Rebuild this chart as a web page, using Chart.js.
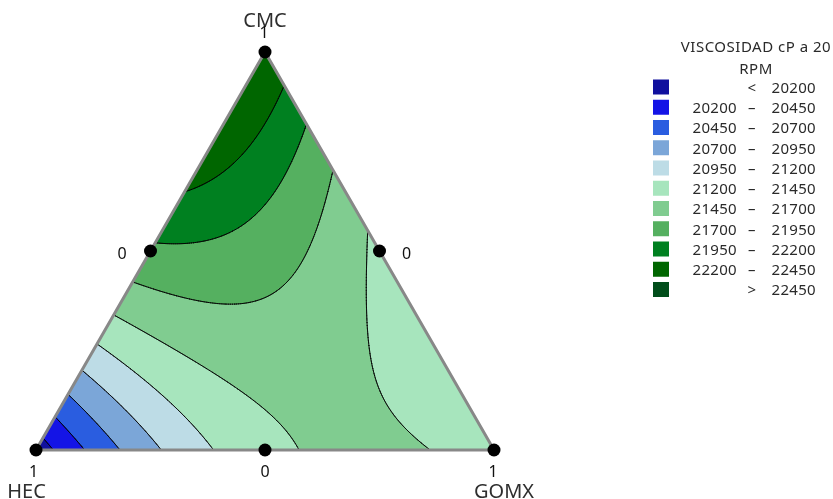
<!DOCTYPE html>
<html>
<head>
<meta charset="utf-8">
<script src="https://cdn.jsdelivr.net/npm/chart.js@4.4.1/dist/chart.umd.min.js"></script>
<style>
  html, body { margin: 0; padding: 0; background: #ffffff; }
  #wrap { width: 833px; height: 499px; position: relative; }
</style>
</head>
<body>
<div id="wrap"><canvas id="chart"></canvas></div>
<script>
// Mixture design: component proportions for every run
const componentNames = ['CMC', 'HEC', 'GOMX'];
const runCMC  = [1, 0, 0, 0.5, 0.5, 0];
const runHEC  = [0, 1, 0, 0.5, 0, 0.5];
const runGOMX = [0, 0, 1, 0, 0.5, 0.5];
// Viscosity (cP at 20 RPM) measured at each run
const viscosity = [22445, 20050, 21282, 21902, 21385, 21374];
// Contour break values
const contourLevels = [20200, 20450, 20700, 20950, 21200, 21450, 21700, 21950, 22200, 22450];
// Tick labels at the vertices and at the edge midpoints
const vertexTickLabels = ['1', '1', '1'];
const midTickLabels = ['0', '0', '0'];
const legendTitle = ['VISCOSIDAD cP a 20', 'RPM'];

// Band colours, lowest to highest
const bandColors = ['#10109e', '#1414e6', '#2a5de0', '#7ba6d8', '#bddce6', '#a7e5bd',
                    '#80cc90', '#55b060', '#008020', '#006600', '#004d1a'];

// ---- Scheffé quadratic model fitted to the runs (least squares) ----
function terms(a, b, c) { return [a, b, c, a * b, a * c, b * c]; }
function fitModel() {
  const n = 6;
  const XtX = Array.from({ length: n }, () => new Array(n).fill(0));
  const Xty = new Array(n).fill(0);
  for (let r = 0; r < viscosity.length; r++) {
    const t = terms(runCMC[r], runHEC[r], runGOMX[r]);
    for (let i = 0; i < n; i++) {
      Xty[i] += t[i] * viscosity[r];
      for (let j = 0; j < n; j++) XtX[i][j] += t[i] * t[j];
    }
  }
  // Gaussian elimination with partial pivoting
  const M = XtX.map((row, i) => row.concat([Xty[i]]));
  for (let k = 0; k < n; k++) {
    let p = k;
    for (let i = k + 1; i < n; i++) if (Math.abs(M[i][k]) > Math.abs(M[p][k])) p = i;
    [M[k], M[p]] = [M[p], M[k]];
    for (let i = k + 1; i < n; i++) {
      const f = M[i][k] / M[k][k];
      for (let j = k; j <= n; j++) M[i][j] -= f * M[k][j];
    }
  }
  const beta = new Array(n).fill(0);
  for (let i = n - 1; i >= 0; i--) {
    let s = M[i][n];
    for (let j = i + 1; j < n; j++) s -= M[i][j] * beta[j];
    beta[i] = s / M[i][i];
  }
  return beta;
}
const beta = fitModel();
function response(a, b, c) {
  const t = terms(a, b, c);
  let s = 0;
  for (let i = 0; i < t.length; i++) s += beta[i] * t[i];
  return s;
}
function bandIndex(v) {
  let k = 0;
  while (k < contourLevels.length && v >= contourLevels[k]) k++;
  return k;
}

// Ternary -> cartesian: HEC at (0,0), GOMX at (1,0), CMC at (0.5,1)
function toXY(a, b, c) { return { x: c + a / 2, y: a }; }

const designPoints = runCMC.map((a, i) => toXY(a, runHEC[i], runGOMX[i]));
const outline = [toXY(1, 0, 0), toXY(0, 1, 0), toXY(0, 0, 1), toXY(1, 0, 0)];

function hexToRgb(h) {
  return [parseInt(h.slice(1, 3), 16), parseInt(h.slice(3, 5), 16), parseInt(h.slice(5, 7), 16)];
}
const bandRgb = bandColors.map(hexToRgb);

// Filled bands and contour lines, drawn underneath the outline and run markers
const contourPlugin = {
  id: 'contourPlugin',
  beforeDatasetsDraw(chart) {
    const ctx = chart.ctx;
    const xs = chart.scales.x, ys = chart.scales.y;
    const corners = outline.slice(0, 3).map(p => [xs.getPixelForValue(p.x), ys.getPixelForValue(p.y)]);
    const x0 = Math.floor(Math.min(...corners.map(p => p[0]))) - 1;
    const x1 = Math.ceil(Math.max(...corners.map(p => p[0]))) + 1;
    const y0 = Math.floor(Math.min(...corners.map(p => p[1]))) - 1;
    const y1 = Math.ceil(Math.max(...corners.map(p => p[1]))) + 1;
    const w = x1 - x0, h = y1 - y0;

    // linear pixel -> value mapping taken from the scales
    const vx0 = xs.getValueForPixel(0), dvx = xs.getValueForPixel(1) - vx0;
    const vy0 = ys.getValueForPixel(0), dvy = ys.getValueForPixel(1) - vy0;

    const img = ctx.getImageData(x0, y0, w, h);
    const d = img.data;
    const S = 3;
    for (let j = 0; j < h; j++) {
      for (let i = 0; i < w; i++) {
        let r = 0, g = 0, bl = 0, n = 0;
        for (let sy = 0; sy < S; sy++) {
          const Y = vy0 + (y0 + j + (sy + 0.5) / S) * dvy;
          for (let sx = 0; sx < S; sx++) {
            const X = vx0 + (x0 + i + (sx + 0.5) / S) * dvx;
            const a = Y, c = X - Y / 2, b = 1 - a - c;
            if (a < 0 || b < 0 || c < 0) continue;
            const col = bandRgb[bandIndex(response(a, b, c))];
            r += col[0]; g += col[1]; bl += col[2]; n++;
          }
        }
        if (n > 0) {
          const o = (j * w + i) * 4;
          d[o] = r / n; d[o + 1] = g / n; d[o + 2] = bl / n;
          d[o + 3] = Math.round(255 * n / (S * S));
        }
      }
    }
    ctx.putImageData(img, x0, y0);

    // contour lines by marching triangles on a fine simplex grid
    const N = 240;
    const val = [];
    for (let i = 0; i <= N; i++) {
      val.push([]);
      for (let j = 0; j <= N - i; j++) {
        const a = i / N, c = j / N;
        val[i].push(response(a, 1 - a - c, c));
      }
    }
    const px = (a, c) => {
      const p = toXY(a, 1 - a - c, c);
      return [xs.getPixelForValue(p.x), ys.getPixelForValue(p.y)];
    };
    ctx.save();
    ctx.strokeStyle = 'rgba(0,0,0,0.9)';
    ctx.lineWidth = 0.9;
    ctx.lineCap = 'round';
    ctx.beginPath();
    const tri = (p, L) => {
      const pts = [];
      for (let e = 0; e < 3; e++) {
        const A = p[e], B = p[(e + 1) % 3];
        const da = A[2] - L, db = B[2] - L;
        if ((da < 0) !== (db < 0)) {
          const t = da / (da - db);
          pts.push(px(A[0] + t * (B[0] - A[0]), A[1] + t * (B[1] - A[1])));
        }
      }
      if (pts.length === 2) {
        ctx.moveTo(pts[0][0], pts[0][1]);
        ctx.lineTo(pts[1][0], pts[1][1]);
      }
    };
    for (const L of contourLevels) {
      for (let i = 0; i < N; i++) {
        for (let j = 0; j < N - i; j++) {
          const p0 = [i / N, j / N, val[i][j]];
          const p1 = [(i + 1) / N, j / N, val[i + 1][j]];
          const p2 = [i / N, (j + 1) / N, val[i][j + 1]];
          tri([p0, p1, p2], L);
          if (j < N - i - 1) {
            const p3 = [(i + 1) / N, (j + 1) / N, val[i + 1][j + 1]];
            tri([p1, p3, p2], L);
          }
        }
      }
    }
    ctx.stroke();
    ctx.restore();
  }
};

// Component names, tick labels and the band legend
const labelPlugin = {
  id: 'labelPlugin',
  afterDraw(chart) {
    const ctx = chart.ctx;
    const xs = chart.scales.x, ys = chart.scales.y;
    const pix = p => [xs.getPixelForValue(p.x), ys.getPixelForValue(p.y)];
    const top = pix(toXY(1, 0, 0)), left = pix(toXY(0, 1, 0)), right = pix(toXY(0, 0, 1));
    const midL = pix(toXY(0.5, 0.5, 0)), midR = pix(toXY(0.5, 0, 0.5)), midB = pix(toXY(0, 0.5, 0.5));
    ctx.save();
    ctx.textAlign = 'center';
    ctx.textBaseline = 'alphabetic';
    ctx.fillStyle = '#2e2e2e';

    ctx.font = '20px "Noto Sans"';
    ctx.fillText(componentNames[0], top[0], top[1] - 24.5);
    ctx.fillText(componentNames[1], left[0] - 9.5, left[1] + 48.5);
    ctx.fillText(componentNames[2], right[0] + 10, right[1] + 48.5);

    ctx.fillStyle = '#111111';
    ctx.font = '16px "Noto Sans"';
    ctx.fillText(vertexTickLabels[0], top[0] - 1, top[1] - 13.5);
    ctx.fillText(vertexTickLabels[1], left[0] - 2.5, left[1] + 27.5);
    ctx.fillText(vertexTickLabels[2], right[0] - 1, right[1] + 27.5);
    ctx.fillText(midTickLabels[0], midL[0] - 28.5, midL[1] + 8.5);
    ctx.fillText(midTickLabels[1], midR[0] + 27, midR[1] + 8.5);
    ctx.fillText(midTickLabels[2], midB[0], midB[1] + 27.5);

    // legend
    ctx.fillStyle = '#2a2a2a';
    ctx.font = '15px "Noto Sans"';
    ctx.textAlign = 'center';
    ctx.letterSpacing = '0.5px';
    ctx.fillText(legendTitle[0], 756, 51.5);
    ctx.fillText(legendTitle[1], 756, 73.7);
    ctx.letterSpacing = '0.3px';
    const rows = bandColors.length;
    for (let r = 0; r < rows; r++) {
      const cy = 87.5 + r * 20.25;
      ctx.fillStyle = bandColors[r];
      ctx.fillRect(653, cy - 8, 16, 15);
      ctx.fillStyle = '#2a2a2a';
      const base = cy + 5.4;
      if (r === 0) {
        ctx.textAlign = 'center';
        ctx.fillText('<', 752, base);
        ctx.textAlign = 'right';
        ctx.fillText(String(contourLevels[0]), 816, base);
      } else if (r === rows - 1) {
        ctx.textAlign = 'center';
        ctx.fillText('>', 752, base);
        ctx.textAlign = 'right';
        ctx.fillText(String(contourLevels[contourLevels.length - 1]), 816, base);
      } else {
        ctx.textAlign = 'right';
        ctx.fillText(String(contourLevels[r - 1]), 737, base);
        ctx.textAlign = 'center';
        ctx.fillText('\u2013', 752, base);
        ctx.textAlign = 'right';
        ctx.fillText(String(contourLevels[r]), 816, base);
      }
    }
    ctx.restore();
  }
};

new Chart(document.getElementById('chart'), {
  type: 'scatter',
  data: {
    datasets: [
      {
        label: 'runs',
        data: designPoints,
        pointRadius: 6.5,
        pointBackgroundColor: '#000000',
        pointBorderColor: '#000000',
        pointBorderWidth: 0,
        showLine: false
      },
      {
        label: 'outline',
        data: outline,
        showLine: true,
        borderColor: '#888888',
        borderWidth: 3,
        pointRadius: 0,
        fill: false,
        tension: 0
      }
    ]
  },
  options: {
    responsive: true,
    maintainAspectRatio: false,
    devicePixelRatio: 1,
    animation: false,
    events: [],
    layout: { padding: 0, autoPadding: false },
    plugins: { legend: { display: false }, tooltip: { enabled: false } },
    scales: {
      x: { type: 'linear', min: -0.078603, max: 1.740175, display: false },
      y: { type: 'linear', min: -0.123116, max: 1.130653, display: false }
    }
  },
  plugins: [contourPlugin, labelPlugin]
});
</script>
</body>
</html>
